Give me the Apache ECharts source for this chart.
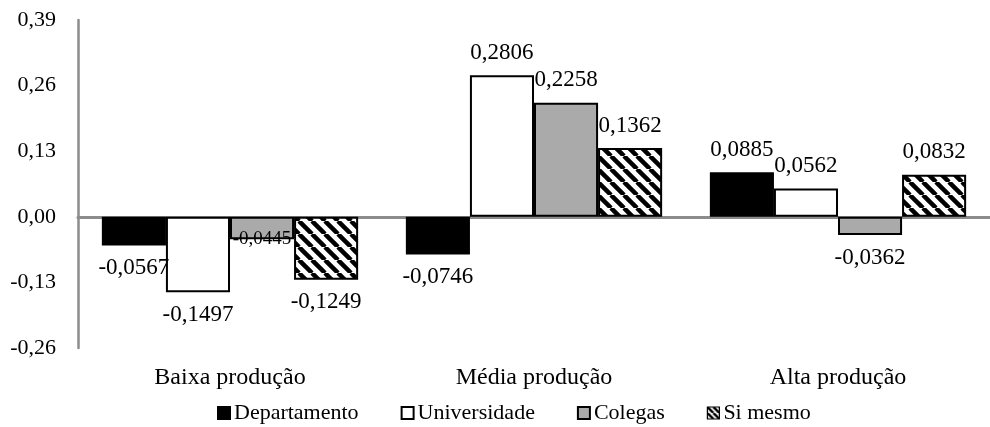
<!DOCTYPE html>
<html><head><meta charset="utf-8">
<script src="https://cdn.jsdelivr.net/npm/echarts@6/dist/echarts.min.js"></script>
<style>html,body{margin:0;padding:0;background:#fff}#c{width:990px;height:427px}</style>
</head><body><div id="c"></div>
<script>
const categories = ['Baixa produção', 'Média produção', 'Alta produção'];
const departamento = [-0.0567, -0.0746, 0.0885];
const universidade = [-0.1497, 0.2806, 0.0562];
const colegas = [-0.0445, 0.2258, -0.0362];
const siMesmo = [-0.1249, 0.1362, 0.0832];
const seriesNames = ['Departamento', 'Universidade', 'Colegas', 'Si mesmo'];

const FONT = 'Liberation Serif';

function hatch(size, lw) {
  const c = document.createElement('canvas');
  c.width = size; c.height = size;
  const g = c.getContext('2d');
  g.fillStyle = '#fff'; g.fillRect(0, 0, size, size);
  g.strokeStyle = '#000'; g.lineWidth = lw;
  for (let k = -1; k <= 1; k++) {
    g.beginPath();
    g.moveTo(k * size, 0);
    g.lineTo(k * size + size, size);
    g.stroke();
  }
  return c;
}
const hatchPattern = { image: hatch(13, 4.5), repeat: 'repeat' };
const hatchIcon = { image: hatch(6, 2.5), repeat: 'repeat' };

const fmt = v => v.toFixed(4).replace('.', ',');

function labelFor(v) {
  return {
    show: true, position: v >= 0 ? 'top' : 'bottom', distance: 11,
    fontFamily: FONT, fontSize: 23, color: '#000',
    formatter: p => fmt(p.value)
  };
}
function mk(name, arr, style, overrides) {
  return {
    name, type: 'bar', xAxisIndex: 0, barGap: '0%', barCategoryGap: '15.7%',
    itemStyle: style,
    data: arr.map((v, i) => {
      const d = { value: v, label: labelFor(v) };
      if (overrides && overrides[i]) Object.assign(d.label, overrides[i]);
      return d;
    })
  };
}

const chart = echarts.init(document.getElementById('c'), null, { renderer: 'canvas' });
chart.setOption({
  animation: false,
  backgroundColor: '#fff',
  grid: { left: 78, top: 20, bottom: 79, width: 920, containLabel: false },
  legend: {
    bottom: -2, left: 212, itemWidth: 12, itemHeight: 12, itemGap: 42,
    textStyle: { fontFamily: FONT, fontSize: 22, color: '#000', padding: [0, 0, 0, -1] },
    data: seriesNames.map((n, i) => ({
      name: n, icon: 'rect',
      itemStyle: i === 3 ? { color: hatchIcon, borderColor: '#000', borderWidth: 1.2 } : undefined
    }))
  },
  xAxis: [
    {
      type: 'category', data: categories, position: 'bottom',
      axisLine: { show: false }, axisTick: { show: false },
      axisLabel: { fontFamily: FONT, fontSize: 24, color: '#000', margin: 18 }
    },
    {
      type: 'category', data: categories, position: 'bottom',
      axisLine: { show: true, onZero: true, onZeroAxisIndex: 0, lineStyle: { color: '#8c8c8c', width: 3 } },
      axisTick: { show: false }, axisLabel: { show: false }
    }
  ],
  yAxis: {
    type: 'value', min: -0.26, max: 0.39, interval: 0.13,
    axisLine: { show: true, lineStyle: { color: '#8c8c8c', width: 2.5 } },
    axisTick: { show: false }, splitLine: { show: false },
    axisLabel: { fontFamily: FONT, fontSize: 22, color: '#000', margin: 22,
      formatter: v => v.toFixed(2).replace('.', ',') }
  },
  series: [
    mk('Departamento', departamento, { color: '#000', borderColor: '#000', borderWidth: 1.5 }),
    mk('Universidade', universidade, { color: '#fff', borderColor: '#000', borderWidth: 2 }),
    mk('Colegas', colegas, { color: '#aaaaaa', borderColor: '#000', borderWidth: 2 },
       { 0: { fontSize: 19, distance: -10 } }),
    mk('Si mesmo', siMesmo, { color: hatchPattern, borderColor: '#000', borderWidth: 2 })
  ]
});
</script></body></html>
